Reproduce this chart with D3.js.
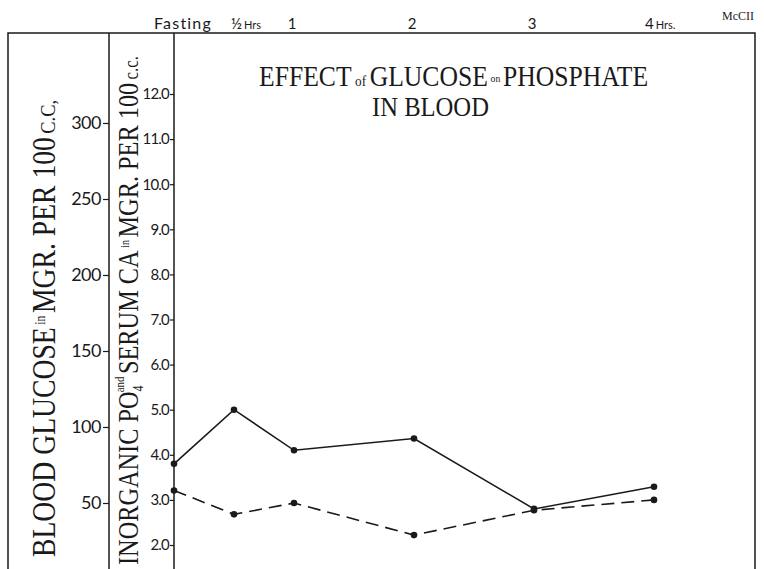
<!DOCTYPE html>
<html><head><meta charset="utf-8">
<script src="https://cdn.jsdelivr.net/npm/d3@7"></script>
<style>body{margin:0;background:#fff}svg{display:block}</style>
</head><body><svg id="c" width="764" height="569"></svg>
<script>
const hours = [0, 0.5, 1, 2, 3, 4];
const hourLabels = ["Fasting", "½", "1", "2", "3", "4"];
const hourSuffix = ["", "Hrs", "", "", "", "Hrs."];
const seriesSolid = [3.80, 5.00, 4.10, 4.36, 2.80, 3.29];
const seriesDashed = [3.21, 2.68, 2.93, 2.22, 2.77, 3.00];
const glucoseTicks = [50, 100, 150, 200, 250, 300];
const phosphateTicks = [2, 3, 4, 5, 6, 7, 8, 9, 10, 11, 12];

const svg = d3.select("#c");
const ink = "#1a1a1a";
const serif = "'Liberation Serif','DejaVu Serif',serif";
const hand = "Lato,'Open Sans',sans-serif";

const x = d3.scaleLinear().domain([0, 4]).range([174, 654]);
const yP = d3.scaleLinear().domain([2, 12]).range([545, 94]);
const yG = d3.scaleLinear().domain([50, 300]).range([503, 123]);

svg.append("rect").attr("width", 764).attr("height", 569).attr("fill", "#fff");

// frame
const frame = svg.append("g").attr("fill", "none").attr("stroke", ink).attr("stroke-width", 1.5);
frame.append("path").attr("d", "M8,569V33H755V569");
frame.append("line").attr("x1", 109).attr("x2", 109).attr("y1", 33).attr("y2", 569);
frame.append("line").attr("x1", 174).attr("x2", 174).attr("y1", 33).attr("y2", 569);

// axes
const gAx = svg.append("g").attr("transform", "translate(109,0)")
  .call(d3.axisLeft(yG).tickValues(glucoseTicks).tickSize(6).tickPadding(2));
const pAx = svg.append("g").attr("transform", "translate(174,0)")
  .call(d3.axisLeft(yP).tickValues(phosphateTicks).tickFormat(d3.format(".1f")).tickSize(4).tickPadding(1));
[gAx, pAx].forEach(a => {
  a.select(".domain").remove();
  a.selectAll(".tick line").attr("stroke", ink).attr("stroke-width", 1.2);
  a.selectAll(".tick text").attr("fill", ink).attr("font-family", hand).attr("font-weight", 400);
});
gAx.selectAll(".tick text").attr("font-size", 18).attr("letter-spacing", -0.5);
pAx.selectAll(".tick text").attr("font-size", 15).attr("letter-spacing", -0.8);

// top time labels
const topLabels = svg.append("g").attr("fill", ink).attr("font-family", hand).attr("font-weight", 400);
hours.forEach((h, i) => {
  const t = topLabels.append("text").attr("y", 29);
  if (i === 0) t.attr("x", x(h) - 20).attr("text-anchor", "start").attr("letter-spacing", 1.2);
  else if (hourSuffix[i]) t.attr("x", x(h) - (i === 1 ? 3 : 9)).attr("text-anchor", "start");
  else t.attr("x", x(h) - 2).attr("text-anchor", "middle");
  t.append("tspan").text(hourLabels[i]).attr("font-size", i === 0 ? 16 : 15);
  if (hourSuffix[i]) t.append("tspan").text(hourSuffix[i]).attr("font-size", 11).attr("dx", 2);
});
svg.append("text").attr("x", 722).attr("y", 20).attr("font-size", 12).attr("font-family", serif)
  .attr("fill", ink).text("McCII");

// helper to fit text to a length
function fitText(textSel, len) {
  const w = textSel.node().getComputedTextLength();
  textSel.attr("transform", `scale(${len / w},1)`);
}

// title
function titleLine(parts, x0, y0, len) {
  const g = svg.append("g").attr("transform", `translate(${x0},${y0})`);
  const t = g.append("text").attr("fill", ink).attr("font-family", serif);
  parts.forEach(p => {
    const s = t.append("tspan").text(p[0]).attr("font-size", p[1]).attr("dx", p[2] || 0);
    if (p[3]) s.attr("dy", p[3]);
  });
  fitText(t, len);
}
titleLine([["EFFECT", 29], ["of", 15, 4], ["GLUCOSE", 29, 4], ["on", 11, 3, -4], ["PHOSPHATE", 29, 3, 4]], 259, 86, 377);
titleLine([["IN BLOOD", 27]], 372, 116, 117);

// rotated axis titles
function vTitle(parts, bx, yBottom, len) {
  const g = svg.append("g").attr("transform", `translate(${bx},${yBottom}) rotate(-90)`);
  const t = g.append("text").attr("fill", ink).attr("font-family", serif);
  parts.forEach(p => {
    const s = t.append("tspan").text(p[0]).attr("font-size", p[1]).attr("dx", p[2] || 0);
    if (p[3]) s.attr("dy", p[3]);
  });
  fitText(t, len);
}
vTitle([["BLOOD GLUCOSE", 33], ["in", 14, 3, -10], ["MGR. PER 100", 33, 3, 10], ["C.C,", 22, 4]], 55, 557, 449);
vTitle([["INORGANIC PO", 29], ["4", 14, 0, 5], ["and", 13, -8, -19], ["SERUM CA", 29, 3, 14], ["in", 12, 3, -9], ["MGR. PER 100", 29, 3, 9], ["c.c.", 20, 4]], 138, 565, 505);

// data lines
const line = d3.line().x((d, i) => x(hours[i])).y(d => yP(d));
svg.append("path").datum(seriesSolid).attr("d", line).attr("fill", "none")
  .attr("stroke", ink).attr("stroke-width", 1.6);
svg.append("path").datum(seriesDashed).attr("d", line).attr("fill", "none")
  .attr("stroke", ink).attr("stroke-width", 1.6).attr("stroke-dasharray", "13,7");
[seriesSolid, seriesDashed].forEach(s => {
  svg.append("g").selectAll("circle").data(s).join("circle")
    .attr("cx", (d, i) => x(hours[i])).attr("cy", d => yP(d)).attr("r", 3.3).attr("fill", ink);
});
</script></body></html>
